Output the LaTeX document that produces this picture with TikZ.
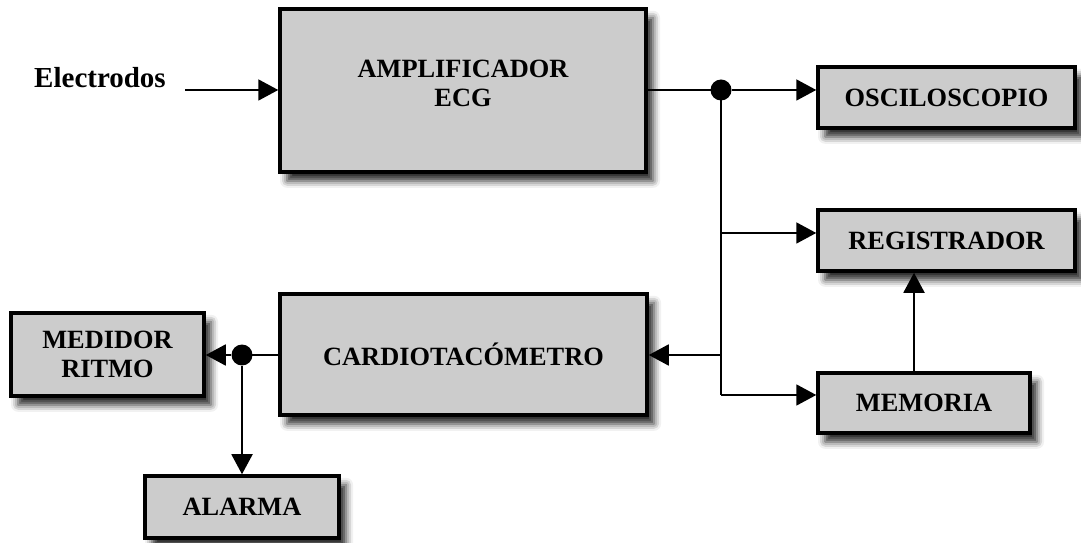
\documentclass[tikz,border=0pt]{standalone}
\usepackage{fontspec}
\setmainfont{Liberation Serif}
\usetikzlibrary{
    arrows.meta,
    shadows.blur
}
\tikzset{
  every path/.style={
    line width=1.1pt
  },
  block/.style={
    draw,
    line width=2pt,
    fill=black!20,
    blur shadow={shadow xshift=4pt, shadow yshift=-5pt,
      shadow blur radius=4pt, shadow opacity=85},
    font=\fontsize{15}{16.5}\selectfont\bfseries,
    align=center,
    inner sep=0pt
  },
  joint/.style={
    circle,
    fill,
    inner sep=0pt,
    minimum size=0.42cm
  },
  wire/.style={
    -{Triangle[length=0.4cm,width=0.42cm]}
  }
}

\begin{document}
\begin{tikzpicture}[x=0.02cm,y=-0.02cm]
\useasboundingbox (0,0) rectangle (1081,543);
\foreach \nm/\cx/\cy/\w/\h/\txt in {
    amp/463/90.5/366/163/{},
    osc/946.5/97.5/257/61/OSCILOSCOPIO,
    reg/946.5/240.5/257/61/REGISTRADOR,
    mem/924/403/212/60/MEMORIA,
    card/463.5/354.5/367/121/CARDIOTACÓMETRO,
    med/107.5/354.5/193/83/{MEDIDOR\\RITMO},
    alarm/242/507/194/62/ALARMA} {
\node[block, minimum width=\w*0.02cm, minimum height=\h*0.02cm] (\nm) at (\cx,\cy) {\txt};
}
\node[font=\fontsize{15}{16.5}\selectfont\bfseries, align=center] (amptxt)
    at ([yshift=0.15cm]amp.center) {AMPLIFICADOR\\ECG};
\node[font=\fontsize{16.5}{18}\selectfont\bfseries] (elec) at (100,78) {Electrodos};
\coordinate (in) at (185,90);
\node[joint] (d1) at (721,90) {};
\node[joint] (d2) at (242,355) {};
\coordinate (j1) at (721,233);
\coordinate (j2) at (721,355);
\coordinate (j3) at (721,395);

\draw[wire] (in) -- (amp.west |- in);
\draw (amp.east |- d1) -- (d1.center) -- (j3);
\draw[wire] (d1) -- (d1 -| osc.west);
\draw[wire] (j1) -- (j1 -| reg.west);
\draw[wire] (j3) -- (j3 -| mem.west);
\draw[wire] (j2) -- (j2 -| card.east);
\draw[wire] ([xshift=-0.2cm]mem.north) -- ([xshift=-0.2cm]mem.north |- reg.south);
\draw (card.west |- d2) -- (d2.center);
\draw[wire] (d2) -- (d2 -| med.east);
\draw[wire] (d2) -- (d2 |- alarm.north);
\end{tikzpicture}
\end{document}
